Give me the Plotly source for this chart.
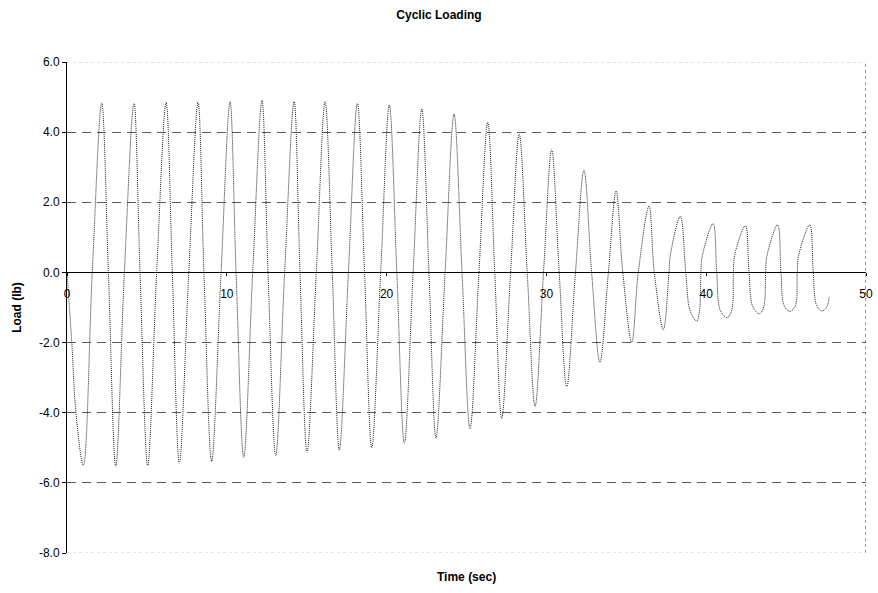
import plotly.graph_objects as go

# ---------------- data ----------------
start_t = [0.00, 0.30, 0.56]
start_v = [0.00, -2.00, -4.00]

trough_t = [1.02, 3.05, 5.05, 7.03, 9.05, 11.06, 13.06, 15.02, 17.04, 19.07, 21.11, 23.09,
            25.22, 27.20, 29.29, 31.27, 33.35, 35.34, 37.32, 39.41, 41.32, 43.32, 45.24, 47.23]
trough_v = [-5.50, -5.53, -5.50, -5.44, -5.39, -5.27, -5.22, -5.13, -5.06, -5.00, -4.88, -4.72,
            -4.46, -4.17, -3.82, -3.27, -2.56, -1.99, -1.63, -1.39, -1.29, -1.18, -1.11, -1.10]

rise_zero_t = [1.58, 3.59, 5.61, 7.62, 9.64, 11.62, 13.62, 15.60, 17.61, 19.63, 21.66, 23.66,
               25.78, 27.76, 29.82, 31.82, 33.88, 35.75, 37.67, 39.67, 41.70, 43.72, 45.70]

peak_t = [2.17, 4.19, 6.20, 8.20, 10.20, 12.20, 14.21, 16.15, 18.17, 20.17, 22.20, 24.22,
          26.33, 28.30, 30.33, 32.35, 34.36, 36.42, 38.38, 40.43, 42.45, 44.47, 46.48]
peak_v = [4.83, 4.83, 4.85, 4.85, 4.87, 4.90, 4.87, 4.88, 4.83, 4.77, 4.66, 4.51,
          4.28, 3.94, 3.50, 2.91, 2.32, 1.89, 1.60, 1.39, 1.33, 1.36, 1.36]

fall_zero_t = [2.59, 4.57, 6.59, 8.57, 10.58, 12.58, 14.58, 16.60, 18.62, 20.64, 22.65, 24.72,
               26.77, 28.80, 30.80, 32.83, 34.78, 36.75, 38.72, 40.66, 42.68, 44.68, 46.70]

# flattened trough sides of the late cycles
knee_t = [39.00, 39.58, 40.88, 41.60, 42.92, 43.60, 44.88, 45.58, 46.90, 47.54]
knee_v = [-1.10, -1.10, -1.08, -1.08, -0.98, -0.98, -0.95, -0.95, -0.93, -0.99]

# shoulders on the rising edges of the late cycles
shoulder_t = [37.76, 39.76, 41.78, 43.80, 45.78]
shoulder_v = [0.50, 0.48, 0.49, 0.47, 0.47]

end_t = [47.70]
end_v = [-0.68]

x_ticks = [0, 10, 20, 30, 40, 50]
x_labels = ["0", "10", "20", "30", "40", "50"]
y_ticks = [-8, -6, -4, -2, 0, 2, 4, 6]
y_labels = ["-8.0", "-6.0", "-4.0", "-2.0", "0.0", "2.0", "4.0", "6.0"]

# ---------------- assemble the trace ----------------
pts = []
pts += list(zip(start_t, start_v))
pts += list(zip(trough_t, trough_v))
pts += [(t, 0.0) for t in rise_zero_t]
pts += list(zip(peak_t, peak_v))
pts += [(t, 0.0) for t in fall_zero_t]
pts += list(zip(knee_t, knee_v))
pts += list(zip(shoulder_t, shoulder_v))
pts += list(zip(end_t, end_v))
pts.sort(key=lambda p: p[0])
time_s = [p[0] for p in pts]
load_lb = [p[1] for p in pts]

FONT = "Liberation Sans, Arial, Helvetica, sans-serif"

fig = go.Figure()
fig.add_trace(go.Scatter(
    x=time_s, y=load_lb, mode="lines",
    line=dict(color="#222222", width=1, dash="1px,1px", shape="spline", smoothing=1.0),
    showlegend=False, hoverinfo="skip",
))

fig.update_layout(
    width=878, height=593,
    margin=dict(l=67, r=12, t=62, b=40),
    paper_bgcolor="white", plot_bgcolor="white",
    font=dict(family=FONT, size=12, color="black"),
    title=dict(text="<b>Cyclic Loading</b>", x=0.5, xref="container",
               y=1 - 15 / 593, yref="container", yanchor="middle", xanchor="center",
               font=dict(family=FONT, size=12, color="black")),
    xaxis=dict(range=[0, 50], anchor="free", position=8 / 14,
               showline=True, linecolor="black", linewidth=1,
               tickmode="array", tickvals=x_ticks, ticktext=x_labels,
               ticks="outside", ticklen=3, tickcolor="black",
               ticklabelstandoff=7,
               showgrid=False, zeroline=False, automargin=False,
               tickfont=dict(family=FONT, size=12, color="black")),
    yaxis=dict(range=[-8, 6],
               showline=True, linecolor="black", linewidth=1,
               tickmode="array", tickvals=y_ticks, ticktext=y_labels,
               ticks="outside", ticklen=4, tickcolor="black",
               showgrid=True, gridcolor="#5a5a5a", gridwidth=1, griddash="9px,6px",
               zeroline=False, automargin=False,
               tickfont=dict(family=FONT, size=12, color="black"),
               title=dict(text="<b>Load (lb)</b>", standoff=14,
                          font=dict(family=FONT, size=12, color="black"))),
    shapes=[
        dict(type="line", xref="x", yref="y", x0=50, x1=50, y0=-8, y1=6,
             line=dict(color="#333333", width=1, dash="dot")),
        dict(type="line", xref="paper", yref="y", x0=0, x1=1, y0=6, y1=6,
             line=dict(color="#bbbbbb", width=1, dash="dot")),
        dict(type="line", xref="paper", yref="y", x0=0, x1=1, y0=-8, y1=-8,
             line=dict(color="#cccccc", width=1, dash="dot")),
    ],
    annotations=[dict(text="<b>Time (sec)</b>", xref="paper", yref="paper",
                      x=0.5, y=(553 - 577) / 491, xanchor="center", yanchor="middle",
                      showarrow=False, font=dict(family=FONT, size=12, color="black"))],
)

fig.write_html("out.html", config={"displayModeBar": False},
               post_script="document.body.style.margin='0';")
